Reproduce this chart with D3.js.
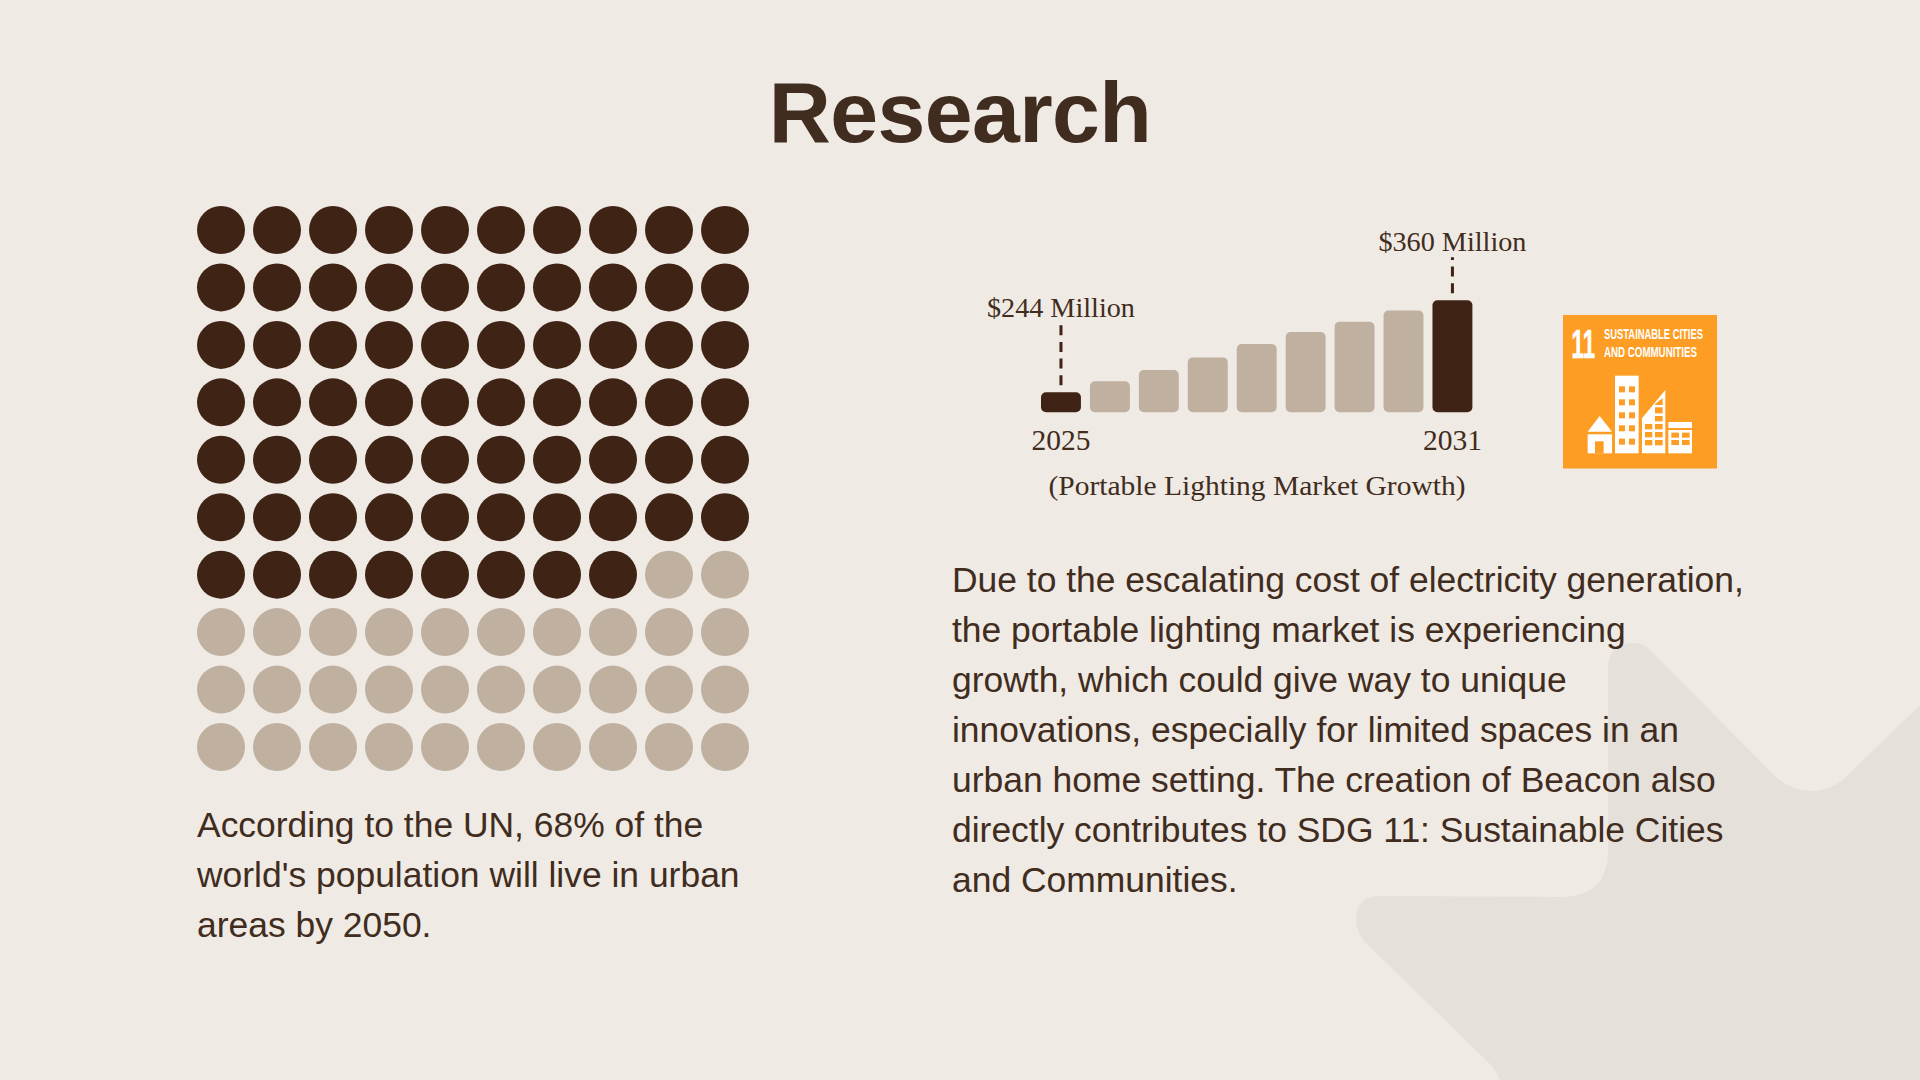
<!DOCTYPE html>
<html>
<head>
<meta charset="utf-8">
<script src="https://cdn.jsdelivr.net/npm/d3@7"></script>
<style>
  html, body { margin: 0; padding: 0; background: #efeae4; overflow: hidden; }
  svg { display: block; }
</style>
</head>
<body>
<svg id="canvas"></svg>
<script>
// data
const titleText = "Research";
const waffleTotal = 100;
const waffleFilled = 68;
const barValues = [244, 258, 272, 288, 305, 320, 333, 347, 360];
const barTickLabels = ["2025", "", "", "", "", "", "", "", "2031"];
const barCallouts = ["$244 Million", "", "", "", "", "", "", "", "$360 Million"];
const barCaption = "(Portable Lighting Market Growth)";
const leftParagraph = [
  "According to the UN, 68% of the",
  "world's population will live in urban",
  "areas by 2050.",
];
const rightParagraph = [
  "Due to the escalating cost of electricity generation,",
  "the portable lighting market is experiencing",
  "growth, which could give way to unique",
  "innovations, especially for limited spaces in an",
  "urban home setting. The creation of Beacon also",
  "directly contributes to SDG 11: Sustainable Cities",
  "and Communities.",
];
const sdgNumber = "11";
const sdgLines = ["SUSTAINABLE CITIES", "AND COMMUNITIES"];

// colours
const dark = "#3f2314";
const light = "#c0b0a0";
const ink = "#412c20";
const sans = "'Liberation Sans', Arial, sans-serif";
const serif = "'Liberation Serif', serif";

const svg = d3.select("#canvas").attr("width", 1920).attr("height", 1080);

svg.append("rect").attr("width", 1920).attr("height", 1080).attr("fill", "#efeae4");

// faint logo shape behind the text
svg
  .append("path")
  .attr("fill", "#e5e0da")
  .attr(
    "d",
    "M1608,668 Q1608,643 1634,643 Q1645,643 1652,652 L1774,775 Q1790,791 1812,791 Q1832,791 1848,775 L1920,705 L1920,1080 L1500,1080 Q1495,1068 1486,1060 L1363,940 Q1356,930 1356,920 Q1356,896 1379,896 L1561,897 Q1608,897 1608,850 Z"
  );

// title
svg
  .append("text")
  .attr("x", 960)
  .attr("y", 142)
  .attr("text-anchor", "middle")
  .attr("font-family", sans)
  .attr("font-weight", "bold")
  .attr("font-size", 86)
  .attr("letter-spacing", -0.6)
  .attr("fill", ink)
  .text(titleText);

// waffle
const side = Math.sqrt(waffleTotal);
const wx = d3.scalePoint().domain(d3.range(side)).range([221, 725]);
const wy = d3.scalePoint().domain(d3.range(side)).range([230, 747]);

svg
  .append("g")
  .selectAll("circle")
  .data(d3.range(waffleTotal))
  .join("circle")
  .attr("cx", (d) => wx(d % side))
  .attr("cy", (d) => wy(Math.floor(d / side)))
  .attr("r", 24)
  .attr("fill", (d) => (d < waffleFilled ? dark : light));

// bars
const x = d3
  .scaleBand()
  .domain(d3.range(barValues.length))
  .range([1041, 1472.4])
  .paddingInner(0.184)
  .paddingOuter(0);

const y = d3.scaleLinear().domain([218.8, 360]).range([412.3, 300.3]);

const isEnd = (i) => i === 0 || i === barValues.length - 1;

svg
  .append("g")
  .selectAll("rect")
  .data(barValues)
  .join("rect")
  .attr("x", (d, i) => x(i))
  .attr("y", (d) => y(d))
  .attr("width", x.bandwidth())
  .attr("height", (d) => y.range()[0] - y(d))
  .attr("rx", 5)
  .attr("fill", (d, i) => (isEnd(i) ? dark : light));

// dashed leaders + callouts
const ends = d3.range(barValues.length).filter(isEnd);

svg
  .append("g")
  .selectAll("line")
  .data(ends)
  .join("line")
  .attr("x1", (i) => x(i) + x.bandwidth() / 2)
  .attr("x2", (i) => x(i) + x.bandwidth() / 2)
  .attr("y1", (i) => y(barValues[i]) - 7)
  .attr("y2", (i) => y(barValues[i]) - 7 - (i === 0 ? 60 : 36))
  .attr("stroke", dark)
  .attr("stroke-width", 3)
  .attr("stroke-dasharray", "10 6.7");

svg
  .append("g")
  .selectAll("text")
  .data(ends)
  .join("text")
  .attr("x", (i) => x(i) + x.bandwidth() / 2)
  .attr("y", (i) => (i === 0 ? 317 : 250.5))
  .attr("text-anchor", "middle")
  .attr("font-family", serif)
  .attr("font-size", 28)
  .attr("textLength", 148)
  .attr("lengthAdjust", "spacingAndGlyphs")
  .attr("fill", ink)
  .text((i) => barCallouts[i]);

// year labels
const axis = svg
  .append("g")
  .attr("transform", "translate(0,412.3)")
  .call(
    d3
      .axisBottom(x)
      .tickValues(ends)
      .tickSize(0)
      .tickPadding(0)
      .tickFormat((i) => barTickLabels[i])
  );
axis.select(".domain").remove();
axis
  .selectAll("text")
  .attr("dy", 0)
  .attr("y", 37.7)
  .attr("font-family", serif)
  .attr("font-size", 29.5)
  .attr("fill", ink);

svg
  .append("text")
  .attr("x", 1257)
  .attr("y", 495)
  .attr("text-anchor", "middle")
  .attr("font-family", serif)
  .attr("font-size", 28)
  .attr("textLength", 417)
  .attr("lengthAdjust", "spacingAndGlyphs")
  .attr("fill", ink)
  .text(barCaption);

// paragraphs
function paragraph(lines, px, py) {
  svg
    .append("g")
    .selectAll("text")
    .data(lines)
    .join("text")
    .attr("x", px)
    .attr("y", (d, i) => py + i * 50)
    .attr("font-family", sans)
    .attr("font-size", 35.45)
    .attr("fill", ink)
    .text((d) => d);
}
paragraph(leftParagraph, 197, 837);
paragraph(rightParagraph, 952, 592);

// SDG tile, icon traced in a 3x box and scaled to its place
const tile = svg.append("g").attr("transform", "translate(1563,315)");
tile.append("rect").attr("width", 154).attr("height", 153.5).attr("fill", "#fd9d24");

tile
  .append("text")
  .attr("x", 8.5)
  .attr("y", 42.5)
  .attr("font-family", sans)
  .attr("font-weight", "bold")
  .attr("font-size", 40)
  .attr("textLength", 23.5)
  .attr("lengthAdjust", "spacingAndGlyphs")
  .attr("fill", "#fff")
  .attr("stroke", "#fff")
  .attr("stroke-width", 0.7)
  .text(sdgNumber);

tile
  .selectAll("text.sdg")
  .data(sdgLines)
  .join("text")
  .attr("class", "sdg")
  .attr("x", 41)
  .attr("y", (d, i) => 23.7 + i * 18.3)
  .attr("font-family", sans)
  .attr("font-weight", "bold")
  .attr("font-size", 15.4)
  .attr("textLength", (d, i) => (i === 0 ? 99 : 93))
  .attr("lengthAdjust", "spacingAndGlyphs")
  .attr("fill", "#fff")
  .text((d) => d);

const icon = tile.append("g").attr("transform", "scale(0.3333) translate(-69,-45)");
const orange = "#fd9d24";
const box = (bx, by, w, h, fill) =>
  icon.append("rect").attr("x", bx).attr("y", by).attr("width", w).attr("height", h).attr("fill", fill);

// house
icon.append("path").attr("d", "M143,395 L179,348 L216,395 Z").attr("fill", "#fff");
box(143, 403, 73, 57, "#fff");
box(165, 424, 26, 36, orange);

// tower
box(225, 227, 71, 233, "#fff");
[259, 298, 337, 376, 416].forEach((wyy) => {
  box(237, wyy, 18, 18, orange);
  box(267, wyy, 18, 18, orange);
});

// slanted building
icon.append("path").attr("d", "M306,460 L306,355 L376,270 L376,460 Z").attr("fill", "#fff");
[372, 396, 420].forEach((wyy) => {
  box(315, wyy, 22, 16, orange);
  box(345, wyy, 23, 16, orange);
});
box(345, 348, 23, 16, orange);
box(345, 322, 23, 18, orange);
icon.append("path").attr("d", "M345,315 L345,312 L368,295 L368,315 Z").attr("fill", orange);

// small block
box(385, 366, 71, 18, "#fff");
box(385, 390, 71, 70, "#fff");
[398, 420].forEach((wyy) => {
  box(394, wyy, 23, 15, orange);
  box(426, wyy, 23, 15, orange);
});
</script>
</body>
</html>
